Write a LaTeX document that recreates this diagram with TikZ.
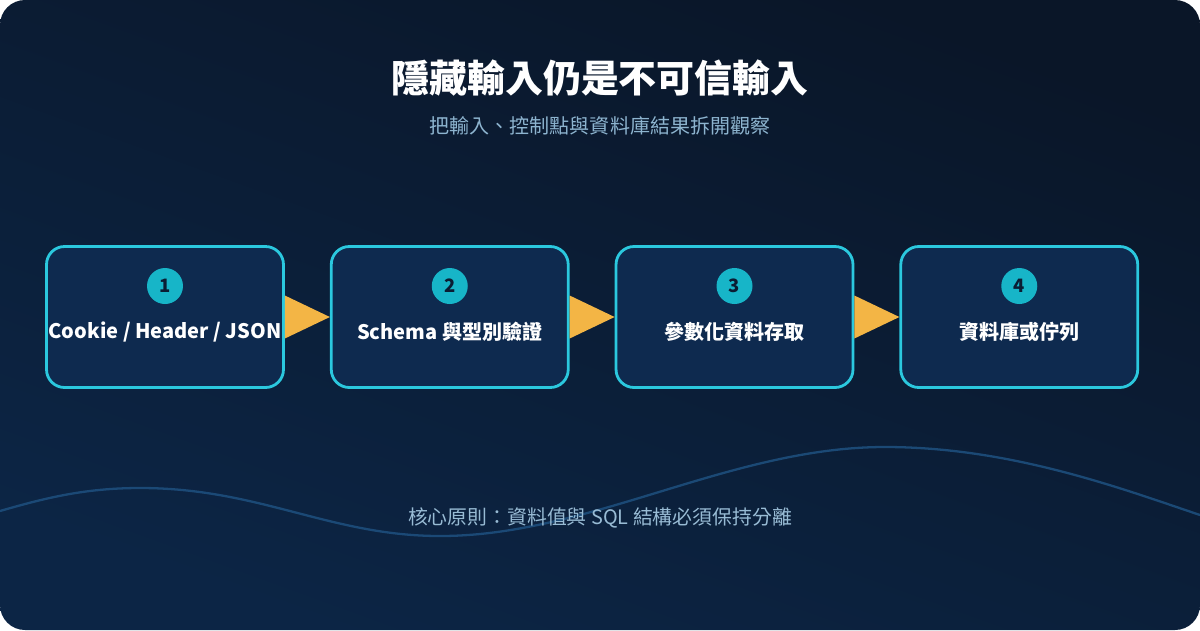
\documentclass[tikz,border=0pt]{standalone}
\usepackage{fontspec}
\setmainfont{Noto Sans CJK TC}
\usepackage{tikz}
\usetikzlibrary{positioning}

\definecolor{bgtop}{HTML}{0A1628}
\definecolor{bgbot}{HTML}{0C2545}
\definecolor{boxfill}{HTML}{0E2A4F}
\definecolor{boxline}{HTML}{2BC8DE}
\definecolor{badge}{HTML}{17B5C8}
\definecolor{badgetxt}{HTML}{0B1D33}
\definecolor{tri}{HTML}{F3B545}
\definecolor{subtxt}{HTML}{8DB4CF}
\definecolor{wave}{HTML}{1D4E7C}

\begin{document}
\begin{tikzpicture}[x=0.02cm,y=-0.02cm,node distance=0.9cm,
  every node/.style={text=white},
  box/.style={draw=boxline,fill=boxfill,line width=1.6pt,rounded corners=0.36cm,
    minimum width=4.74cm,minimum height=2.82cm,inner sep=0pt},
  num/.style={circle,fill=badge,minimum size=0.72cm,inner sep=0pt,
    text=badgetxt,font=\fontsize{10.5pt}{12pt}\selectfont\bfseries},
  lab/.style={font=\fontsize{11.4pt}{13pt}\selectfont\bfseries,inner sep=0pt},
  arr/.style={fill=tri}]
\useasboundingbox (0,0) rectangle (1200,630);
% background card
\fill[white] (0,0) rectangle (1200,630);
\shade[top color=bgtop,bottom color=bgbot,shading angle=-20,rounded corners=0.5cm]
  (0,0) rectangle (1200,630);
\draw[wave,line width=1.3pt,opacity=0.9] (0,511) .. controls (45,498) and (85,488) .. (140,488)
  .. controls (260,488) and (330,536) .. (440,536)
  .. controls (590,536) and (730,447) .. (885,447)
  .. controls (1010,447) and (1120,488) .. (1200,515);

% headings
\node[font=\fontsize{21.6pt}{25pt}\selectfont\bfseries] (title) at (600,78) {隱藏輸入仍是不可信輸入};
\node[text=subtxt,font=\fontsize{11.4pt}{13pt}\selectfont] (sub) at (600,126) {把輸入、控制點與資料庫結果拆開觀察};

% steps
\node[box] (b1) at (165,317) {};
\node[box,right=of b1] (b2) {};
\node[box,right=of b2] (b3) {};
\node[box,right=of b3] (b4) {};
\node[num] (n1) at ([yshift=0.62cm]b1.center) {1};
\node[num] (n2) at ([yshift=0.62cm]b2.center) {2};
\node[num] (n3) at ([yshift=0.62cm]b3.center) {3};
\node[num] (n4) at ([yshift=0.62cm]b4.center) {4};
\node[lab] (l1) at ([yshift=-0.3cm]b1.center) {Cookie / Header / JSON};
\node[lab] (l2) at ([yshift=-0.3cm]b2.center) {Schema 與型別驗證};
\node[lab] (l3) at ([yshift=-0.3cm]b3.center) {參數化資料存取};
\node[lab] (l4) at ([yshift=-0.3cm]b4.center) {資料庫或佇列};

% arrows
\fill[arr] ([yshift=0.43cm]b1.east) -- (b2.west) -- ([yshift=-0.43cm]b1.east) -- cycle;
\fill[arr] ([yshift=0.43cm]b2.east) -- (b3.west) -- ([yshift=-0.43cm]b2.east) -- cycle;
\fill[arr] ([yshift=0.43cm]b3.east) -- (b4.west) -- ([yshift=-0.43cm]b3.east) -- cycle;

\node[text=subtxt!90!white,font=\fontsize{11.3pt}{13pt}\selectfont] (note) at (600,518) {核心原則：資料值與 SQL 結構必須保持分離};
\end{tikzpicture}
\end{document}
